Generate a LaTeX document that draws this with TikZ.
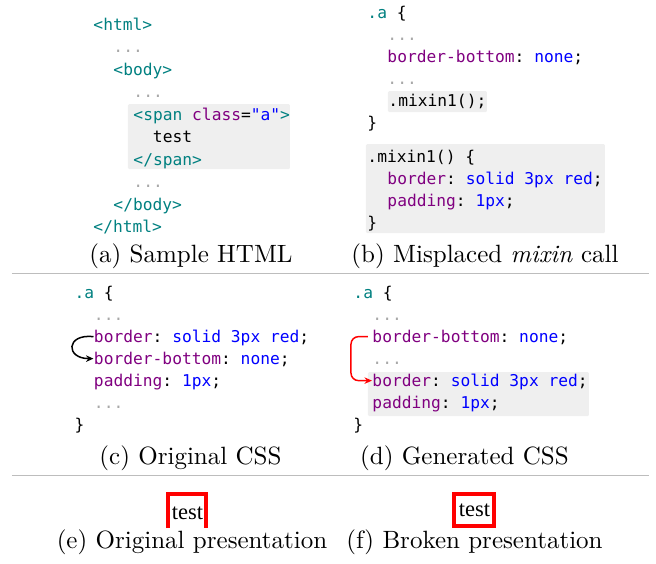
\documentclass[tikz,border=0pt]{standalone}
\usepackage{fontspec}
\setmonofont{DejaVu Sans Mono}
\newfontfamily\pagefont{Liberation Serif}
\usetikzlibrary{arrows.meta}

\definecolor{tagteal}{HTML}{008080}
\definecolor{proppurple}{HTML}{800080}
\definecolor{valblue}{HTML}{0000FF}
\definecolor{dotgray}{HTML}{A8A8A8}
\definecolor{boxgray}{HTML}{EFEFEF}
\definecolor{rulegray}{HTML}{BDBDBD}

\newcommand{\htag}[1]{\textcolor{tagteal}{#1}}
\newcommand{\cprop}[1]{\textcolor{proppurple}{#1}}
\newcommand{\cval}[1]{\textcolor{valblue}{#1}}
\newcommand{\cskip}{\textcolor{dotgray}{...}}

\tikzset{
  code/.style={anchor=base west, inner sep=0pt, font=\ttfamily\fontsize{6.5}{8}\selectfont},
  caption/.style={anchor=base, inner sep=0pt},
  hilite/.style={fill=boxgray, rounded corners=0.5pt},
  sepline/.style={draw=rulegray, line width=0.4pt},
  cssbox/.style={draw=red, line width=1.7pt},
  page/.style={anchor=base, inner sep=0pt, font=\pagefont\fontsize{9}{10}\selectfont},
  movearrow/.style={-{Stealth[length=3pt,width=2.6pt]}, line width=0.6pt},
}

\begin{document}
\begin{tikzpicture}[x=0.4pt, y=-0.4pt]
    \useasboundingbox (0,0) rectangle (656,563);

    % (a) html
    \fill[hilite] (128,104) rectangle (290,169);
    \node[code] at (93,30) (a1) {\htag{<html>}};
    \node[code] at (113,52.5) (a2) {\cskip};
    \node[code] at (113,75) (a3) {\htag{<body>}};
    \node[code] at (133,97.5) (a4) {\cskip};
    \node[code] at (133,120) (a5) {\htag{<span }\cprop{class}=\cval{"a"}\htag{>}};
    \node[code] at (152.5,142.5) (a6) {test};
    \node[code] at (133,165) (a7) {\htag{</span>}};
    \node[code] at (133,187.5) (a8) {\cskip};
    \node[code] at (113,210) (a9) {\htag{</body>}};
    \node[code] at (93,232.5) (a10) {\htag{</html>}};
    \node[caption] at (191,262) (capa) {(a) Sample HTML};

    % (b) less
    \fill[hilite] (388,91) rectangle (487,112);
    \fill[hilite] (366,144) rectangle (605,233);
    \node[code] at (367,18) (b1) {\htag{.a} \{};
    \node[code] at (387,40) (b2) {\cskip};
    \node[code] at (387,62) (b3) {\cprop{border-bottom}: \cval{none};};
    \node[code] at (387,84) (b4) {\cskip};
    \node[code] at (388,106) (b5) {.mixin1();};
    \node[code] at (367,128) (b6) {\}};
    \node[code] at (367,162) (b7) {.mixin1() \{};
    \node[code] at (387,184) (b8) {\cprop{border}: \cval{solid 3px red};};
    \node[code] at (387,206) (b9) {\cprop{padding}: \cval{1px};};
    \node[code] at (367,228) (b10) {\}};
    \node[caption] at (485,262) (capb) {(b) Misplaced \emph{mixin} call};

    \draw[sepline] (12,273) -- (649,273);

    % (c) original css
    \node[code] at (74,298) (c1) {\htag{.a} \{};
    \node[code] at (93.5,320) (c2) {\cskip};
    \node[code] at (93.5,342) (cb) {\cprop{border}: \cval{solid 3px red};};
    \node[code] at (93.5,364) (cbb) {\cprop{border-bottom}: \cval{none};};
    \node[code] at (93.5,386) (c5) {\cprop{padding}: \cval{1px};};
    \node[code] at (93.5,408) (c6) {\cskip};
    \node[code] at (74,430) (c7) {\}};
    \draw[movearrow] (cb.mid west) .. controls +(-28,-3) and +(-28,0) .. (cbb.mid west);
    \node[caption] at (190.5,464) (capc) {(c) Original CSS};

    % (d) generated css
    \fill[hilite] (368,372) rectangle (589,416);
    \node[code] at (353,298) (d1) {\htag{.a} \{};
    \node[code] at (372,320) (d2) {\cskip};
    \node[code] at (372,342) (dbb) {\cprop{border-bottom}: \cval{none};};
    \node[code] at (372,364) (d4) {\cskip};
    \node[code] at (372,386) (dbr) {\cprop{border}: \cval{solid 3px red};};
    \node[code] at (372,408) (d6) {\cprop{padding}: \cval{1px};};
    \node[code] at (353,430) (d7) {\}};
    \draw[movearrow, red, rounded corners=3pt] ([xshift=-1.6pt]dbb.mid west) -- ++(-17,0) |- (dbr.mid west);
    \node[caption] at (464.5,464) (capd) {(d) Generated CSS};

    \draw[sepline] (12,475) -- (649,475);

    % (e), (f) rendered
    \node[page] at (187.5,519) (etest) {test};
    \draw[cssbox] (168,528) -- (168,494) -- (206,494) -- (206,528);
    \node[caption] at (192,548) (cape) {(e) Original presentation};

    \node[page] at (474.5,516) (ftest) {test};
    \draw[cssbox] (454.2,494.2) rectangle (493.8,525.8);
    \node[caption] at (474.5,548) (capf) {(f) Broken presentation};
\end{tikzpicture}
\end{document}
